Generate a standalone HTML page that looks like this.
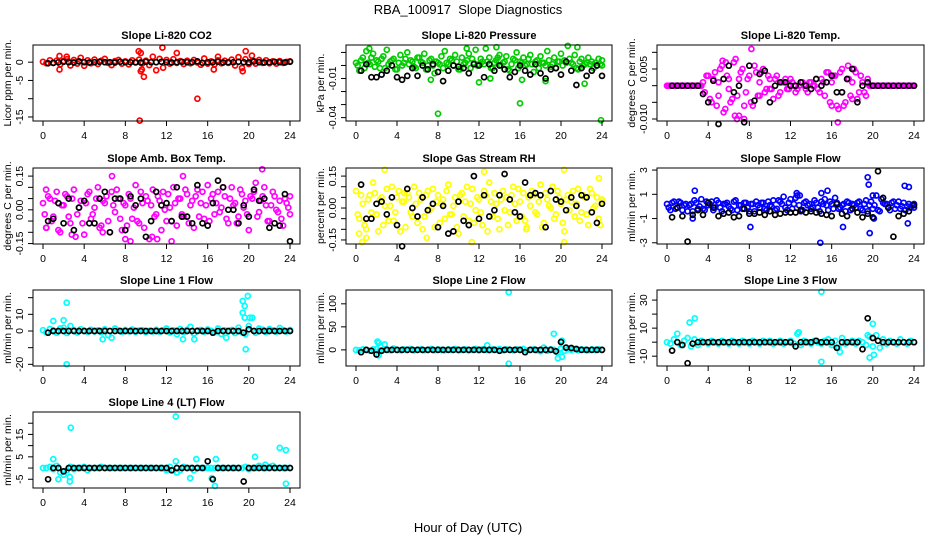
<!DOCTYPE html>
<html><head><meta charset="utf-8"><style>
html,body{margin:0;padding:0;background:#fff}
svg{display:block;font-family:"Liberation Sans",Arial,sans-serif}
</style></head><body>
<svg id="chart" width="936" height="540" viewBox="0 0 936 540">
<text x="468" y="14" text-anchor="middle" font-size="13" style="white-space:pre">RBA_100917  Slope Diagnostics</text>
<text x="468" y="532" text-anchor="middle" font-size="13">Hour of Day (UTC)</text>
</svg>
<script>
const xTicks=[0,4,8,12,16,20,24];
const xTickLabels=["0","4","8","12","16","20","24"];

const co2A=[0.1,-0.3,0.5,-0.2,0.4,-0.6,0.3,0.8,-0.9,0.6,-0.4,1.2,-1.0,0.5,-0.3,0.7,-0.5,0.4,0.9,-0.2,-0.8,0.3,0.6,-0.4,0.2,-0.6,0.5,-0.1,0.7,-0.3,0.4,-0.8,1.5,-2.2,0.9,-1.5,0.6,-0.4,0.8,-0.2,0.3,-0.5,0.4,-0.3,0.6,-0.1,-0.7,1.0,-0.4,0.2,-0.6,0.5,-0.3,0.4,-0.2,0.7,-0.9,1.4,-1.6,0.8,-0.5,0.3,-0.4,0.6,-0.2,0.5,-0.3,0.2,-0.4,0.3,-0.2,0.1,0.2];
const co2Out=[[9.3,3],[9.4,-16],[9.5,2.5],[9.6,-2],[9.8,-4],[11.6,4],[13,2.5],[15,-10],[16.6,-2],[19.7,3],[19.4,-2.5],[1.6,-2],[1.6,1.7],[2.3,1.5],[17,1.5],[20.3,1.8],[9.5,-2.5]];
const co2K=[-0.3,-0.2,0,0.1,0,-0.1,0.2,0,-0.1,0,0.1,0,0,-0.1,0.1,0,0,0,-0.1,0.1,0,0,0.1,0,-0.1,0,0.1,0,0,0.2,-0.2,0,0,0.1,-0.1,0,0,0.1,0,-0.1,0.2,0,-0.1,0,0.1,0,-0.1,0.1];

const presA=[0.002,-0.004,0.006,0.011,0.001,0.009,0.004,-0.002,0.007,0.012,0.003,0.005,-0.003,0.008,0.002,0.010,0.004,-0.001,0.006,0.003,0.009,0.000,0.005,-0.006,0.002,0.007,0.011,0.001,0.004,0.008,-0.003,0.006,0.002,0.009,0.005,0.012,0.001,0.003,0.013,0.006,-0.002,0.004,0.008,0.002,0.007,-0.004,0.005,0.010,0.003,0.006,0.001,0.008,-0.005,0.004,0.007,0.002,0.011,-0.001,0.006,0.003,0.009,0.004,0.015,0.002,0.008,-0.003,0.005,0.001,0.006,0.003,0.002,0.005,0.004];
const presB=[0.000,0.004,-0.002,0.002,0.006,-0.001,0.003,0.005,-0.002,0.001,0.004,-0.003,0.002,0.000,0.005,0.001,0.003,-0.002,0.006,0.002,-0.003,0.004,0.000,0.003,0.001,-0.002,0.002,0.005,0.000,0.003,-0.003,0.001,0.004,-0.002,0.002,0.000,0.005,0.001,0.003,-0.002,0.002,0.006,0.000,0.003,-0.003,0.001,0.004,-0.002,0.002,0.000,0.005,0.001,0.003,-0.002,0.002,0.000,0.004,0.001,-0.002,0.003,0.000,0.002,0.005,0.001,-0.002,0.003,0.000,0.002,0.001,-0.002,0.000,0.001,0.000];
const presOut=[[8,-0.037],[16,-0.029],[23.9,-0.042],[12,-0.013],[7.3,-0.011],[22.3,-0.014],[21.6,0.014],[13.7,0.014],[16.2,-0.011],[18.5,-0.012],[13.1,-0.010],[1.3,0.013],[10.8,0.013]];
const presK=[-0.004,0.001,-0.009,-0.009,-0.007,-0.004,0.000,-0.009,-0.011,-0.008,-0.002,-0.008,0.000,-0.003,0.001,-0.005,-0.012,-0.004,0.000,-0.001,-0.002,-0.006,0.001,0.000,-0.009,0.001,-0.004,0.000,-0.003,-0.009,-0.005,0.000,-0.004,-0.007,0.001,-0.006,-0.010,-0.003,-0.002,-0.007,0.003,-0.004,-0.015,-0.002,-0.008,-0.004,0.000,-0.008];

const tempA=[0,0,0,0,0,0,0,0,0,0,0,-0.002,0.003,-0.005,0.004,-0.003,0.006,-0.007,0.002,-0.004,0.008,-0.009,0.005,-0.002,0.003,-0.006,0.004,-0.003,0.005,-0.001,0.002,-0.004,0.003,-0.002,0.001,-0.001,0.002,0.000,-0.001,0.001,0.000,-0.002,0.001,0.000,-0.001,0.002,-0.003,0.004,-0.006,0.003,-0.007,0.005,-0.005,0.002,-0.004,0.004,-0.002,0.001,-0.003,0,0,0,0,0,0,0,0,0,0,0,0,0,0];
const tempB=[0,0,0,0,0,0,0,0,0,0,0.001,0.003,-0.004,0.002,-0.006,0.005,-0.008,0.003,-0.005,0.007,-0.003,0.004,-0.010,0.002,-0.005,0.006,-0.003,0.004,-0.002,0.003,-0.001,0.002,-0.003,0.001,0.002,-0.001,0.001,-0.002,0.000,0.001,-0.001,0.001,0.000,0.002,-0.002,0.001,0.004,-0.005,0.003,-0.006,0.004,-0.006,0.002,-0.003,0.005,-0.004,0.003,-0.002,0.002,0,0,0,0,0,0,0,0,0,0,0,0,0,0];
const tempOut=[[8.2,0.011],[6.8,-0.010],[6.6,-0.009],[5.4,0.0075],[5.7,0.007],[7.5,-0.006],[17.6,0.006],[16.6,-0.011],[5,0.001],[6,-0.001],[7,0.002],[9,0.001],[10,-0.001],[16,0.001],[17,-0.002],[18,0.001]];
const tempK=[0,0,0,0,0,0,-0.0025,-0.005,0.0015,-0.0115,0.002,0.006,-0.002,0.000,-0.011,0.006,-0.0045,0.0035,0.0045,-0.005,0.000,0.001,0.001,0.000,0.000,0.001,0.000,-0.001,0.002,0.000,0.001,0.003,-0.002,-0.002,0.002,0.005,-0.005,0.000,0.001,0.000,0,0,0,0,0,0,0,0];

const ambA=[0.03,-0.08,0.05,-0.03,0.08,-0.10,0.02,0.06,-0.06,0.09,-0.02,0.04,-0.11,0.07,-0.04,0.01,0.10,-0.07,0.03,-0.05,0.08,-0.01,0.05,-0.09,0.02,0.07,-0.04,0.11,-0.06,0.03,0.06,-0.13,0.09,-0.02,0.04,0.08,-0.05,0.01,0.10,-0.07,0.05,-0.03,0.07,0.02,-0.08,0.09,0.03,-0.04,0.11,0.05,-0.02,0.08,0.01,0.06,-0.06,0.10,0.03,-0.03,0.07,0.04,-0.09,0.05,0.12,-0.01,0.06,0.02,-0.05,0.08,0.00,0.04,-0.07,0.03,0.06];
const ambB=[-0.02,0.06,-0.05,0.04,-0.09,0.02,0.07,-0.03,0.05,-0.12,0.01,-0.06,0.03,0.08,-0.02,0.05,-0.08,0.04,0.06,-0.10,0.02,0.09,-0.04,0.03,-0.07,0.05,0.01,-0.05,0.08,-0.08,0.04,0.02,-0.03,0.06,-0.09,0.00,0.07,-0.05,0.03,0.05,-0.02,0.09,-0.06,0.04,0.06,-0.03,0.08,0.02,-0.05,0.07,0.03,-0.01,0.10,-0.04,0.05,0.02,-0.06,0.09,0.01,-0.02,0.06,0.08,-0.03,0.04,0.10,-0.05,0.02,0.06,-0.01,-0.04,0.05,0.01,-0.02];
const ambOut=[[0.3,0.09],[0.3,-0.08],[6.7,0.15],[13.6,0.15],[21.3,0.18],[8,-0.13],[8.5,-0.14],[12.5,-0.14],[10.6,-0.12],[11.1,-0.13],[2.8,-0.11],[5.8,-0.1]];
const ambK=[-0.05,-0.04,0.03,-0.06,0.05,-0.09,0.01,0.04,-0.06,-0.06,0.05,0.08,-0.10,0.05,0.05,-0.09,0.06,0.02,0.05,-0.12,-0.05,0.08,0.02,0.03,-0.05,0.10,-0.03,-0.03,-0.06,0.11,-0.06,-0.07,0.03,0.13,0.10,0.00,0.00,-0.06,0.02,-0.03,0.09,0.04,0.05,-0.08,-0.06,-0.07,0.07,-0.14];

const rhA=[0.08,-0.05,0.02,-0.10,0.06,0.12,-0.03,0.04,-0.08,0.09,0.01,-0.06,0.05,-0.11,0.03,0.07,-0.02,0.10,-0.07,0.04,-0.04,0.08,0.00,-0.09,0.06,0.02,-0.05,0.11,-0.03,0.05,-0.12,0.07,0.03,-0.06,0.09,-0.01,0.04,-0.08,0.06,0.12,-0.04,0.02,-0.10,0.08,0.05,-0.02,0.10,-0.06,0.03,0.07,-0.09,0.01,0.06,-0.03,0.11,-0.07,0.04,0.00,-0.05,0.08,0.02,-0.11,0.06,0.03,-0.04,0.09,-0.02,0.05,-0.08,0.07,0.01,-0.05,0.04];
const rhB=[-0.03,0.06,-0.08,0.04,-0.02,0.07,-0.11,0.05,0.01,-0.06,0.10,-0.02,0.08,0.03,-0.09,0.05,-0.04,0.02,0.07,-0.10,0.06,-0.01,0.09,0.03,-0.07,0.04,0.08,-0.03,0.01,-0.09,0.06,-0.04,0.10,0.02,-0.07,0.05,-0.02,0.08,-0.11,0.03,0.07,-0.05,0.04,-0.01,-0.08,0.06,0.02,0.09,-0.04,-0.06,0.05,0.08,-0.02,0.03,-0.09,0.07,0.01,0.10,-0.03,0.05,-0.07,0.04,-0.01,0.08,0.02,-0.06,0.06,-0.03,0.09,0.00,0.05,-0.08,0.03];
const rhOut=[[2.8,0.18],[20.3,0.18],[0.6,-0.16],[0.3,-0.12],[20.3,-0.16],[11.3,-0.16],[23.7,0.14],[12.5,0.17],[6.9,-0.14],[1,-0.14],[16.6,-0.1],[4.7,0.07]];
const rhK=[0.11,-0.05,-0.05,0.02,0.03,-0.03,0.05,-0.08,-0.18,0.09,0.00,-0.04,0.05,-0.01,0.02,-0.09,0.01,-0.12,-0.11,0.03,-0.06,-0.08,0.15,-0.05,0.06,-0.04,-0.01,0.06,0.16,0.04,-0.02,-0.04,0.12,0.06,0.07,0.06,-0.09,0.08,0.04,0.03,-0.01,0.05,0.01,0.06,0.05,-0.02,-0.07,0.02];

const sfA=[0.2,-0.3,0.4,-0.1,0.3,0.1,-0.4,0.2,0.5,-0.2,0.6,-0.3,0.1,0.4,-0.1,0.3,-0.4,0.2,0.0,-0.3,0.5,0.1,-0.2,0.3,-0.4,0.2,0.4,-0.1,0.3,-0.3,0.1,0.5,-0.2,0.4,0.8,-0.3,0.6,0.2,0.9,-0.4,0.3,0.1,-0.2,0.5,-0.1,0.4,0.6,-0.3,0.2,0.7,-0.2,0.1,-0.4,0.3,0.2,-0.1,0.4,-0.3,0.5,0.1,-0.2,0.9,-0.4,0.3,0.2,-0.3,0.4,0.1,-0.2,0.3,0.0,-0.1,0.2];
const sfB=[-0.1,0.3,-0.2,0.4,-0.3,0.2,0.1,-0.4,0.3,0.0,-0.2,0.4,0.2,-0.3,0.5,-0.1,0.2,0.3,-0.2,0.4,-0.3,0.1,0.3,-0.1,0.2,-0.4,0.1,0.3,-0.2,0.4,0.0,-0.3,0.5,0.2,-0.1,0.3,-0.2,0.7,0.1,-0.3,0.4,0.2,-0.1,0.3,-0.4,0.2,0.1,0.4,-0.2,0.3,-0.1,0.2,0.4,-0.3,0.1,0.3,-0.2,0.2,-0.4,0.4,0.1,-0.3,0.6,0.2,-0.1,0.3,-0.2,0.4,0.0,-0.3,0.2,0.1,-0.1];
const sfOut=[[2.7,1.3],[2.5,-1],[8.1,-1.7],[14.9,-3],[15.6,1.3],[15,1.1],[17.1,-1.7],[19.5,2.4],[19.6,1.8],[19.7,-2.2],[20,0.9],[20.1,-1],[23.1,1.7],[23.5,1.6],[23.4,-1.4],[12.6,1.1],[12.9,0.9]];
const sfK=[-0.9,-0.1,-0.8,-2.9,-0.7,-0.3,-0.7,0.3,-0.1,-0.8,-0.6,-0.5,-0.9,-0.8,-0.2,-0.6,-0.6,-0.5,-0.7,-0.4,-0.7,-0.6,-0.5,-0.5,-0.5,-0.3,-0.5,-0.4,-0.5,-0.6,-0.7,-0.8,0.2,-0.6,-0.8,-0.2,-0.5,-0.9,-0.6,-0.9,2.9,0.7,-0.1,-2.5,-0.8,-0.6,-0.4,0.1];

const l1A=[0.5,-0.8,1.2,0.3,-1.0,1.5,2.0,-1.2,3.0,0.6,-0.9,1.1,0.2,-0.5,0.8,-0.3,0.4,-0.7,1.0,-2.5,-4.0,1.5,0.3,-0.4,0.6,-0.2,0.9,-0.6,0.3,0.5,-0.8,0.2,-0.3,0.7,-0.4,0.5,1.5,-0.9,0.4,-2.0,1.2,-0.6,0.8,2.5,-1.5,0.3,0.6,-0.5,0.9,0.2,-0.8,1.5,-1.8,0.4,-0.3,0.6,-1.2,2.0,-0.7,-2.0,3.0,8.0,-1.0,1.5,0.8,-0.6,1.2,0.3,-0.4,1.8,0.5,-0.3,0.6];
const l1Out=[[2.3,17],[2.3,-20],[1,6],[2,6.5],[19.4,18],[19.4,11],[19.6,15],[19.9,21],[19.7,-11],[19.6,8],[20.1,8],[5.8,-5],[13.6,-5],[14.7,-5],[17.8,-4]];
const l1K=[-1,0,0,0,0,0,0,0,0,0,0,0,0,0,0,0,0,0,0,0,0,0,0,0,0,0,0,0,0,0,0,0,-1,0,0,0,0,0,-1,1,0,0,0,0,0,0,0,0];

const l2A=[0,-1,1,0,-2,1,2,-1,0,1,-1,3,0,-1,1,0,2,-1,0,1,-1,0,2,-1,1,0,-1,1,0,2,-1,0,1,-1,0,2,-1,1,0,-1,1,0,2,-1,1,0,-1,1,0,2,-1,0,1,-1,-3,5,-2,1,0,-6,3,-2,1,0,2,-1,1,0,-1,1,0,1,0];
const l2Out=[[14.9,125],[14.9,-30],[2.1,18],[2.2,15],[2.8,12],[19.3,35],[20.1,20],[19.7,-18],[20.1,-15],[12.8,10],[2.2,-12]];
const l2K=[-5,0,-2,-10,-2,0,0,0,0,0,0,0,0,0,0,0,0,0,0,0,0,0,0,0,0,0,0,-2,0,0,0,0,-5,0,0,0,0,0,-3,17,5,4,2,0,0,0,0,0];

const l3A=[0,-1,2,0,-2,1,3,-3,2,-2,1,0,-1,1,0,-1,1,0,-1,1,0,-1,1,0,-1,1,0,-1,1,0,1,-1,0,1,-1,0,1,-1,6,-2,1,0,-1,1,0,-1,1,2,-2,1,-4,3,-1,0,1,-1,1,0,-2,4,-3,5,-4,2,-1,1,0,-1,2,0,-1,1,0];
const l3Out=[[1,6],[2.2,14],[2.7,17],[15,36],[15,-14],[12.8,7],[16.8,-7],[20,13],[20.1,-9],[19.7,-11],[19.5,5]];
const l3K=[-6,0,-2,-15,-1,0,0,0,0,0,0,0,0,0,0,0,0,0,0,0,0,0,0,0,-3,0,0,0,1,0,0,0,-4,0,0,0,0,-5,17,3,1,0,0,0,0,0,0,0];

const l4A=[0,0,0.5,-0.5,1,-2,-3,-1,0.5,-0.5,0,0,0.5,-1,0,0,0,0.5,0,0,0,0,0,0,0,0,0,0,0,0,0,0,0,0,0,0,-1,0.5,-1,-2,-1,0.5,0,0,-1,0,0,0,0,0,0,0,0,0,0,0,0,0,0,0.5,-0.5,0,0,1,0,0,0.5,1,0,0,0,0,0];
const l4Out=[[2.7,18],[12.9,23],[1,4],[12.9,3],[14.9,4],[16.8,4],[20.6,5],[23,9],[23.6,8],[23.6,-7],[16.7,-8],[2.6,-6],[2.6,-4],[1.5,-5],[14.3,-4.5],[16.4,-4.5],[21.6,1.5]];
const l4K=[-5,0,0,-1.5,0,0,0,0,0,0,0,0,0,0,0,0,0,0,0,0,0,0,0,0,-1,0,0,0,0,0,0,3,-5,0,0,0,0,0,-6,0,0,0,0,0,0,0,0,0];

const co2Ticks=[0,-5,-10,-15], co2Labels=["0","-5","","-15"];
const presTicks=[0.01,0,-0.01,-0.02,-0.03,-0.04], presLabels=["","","-0.01","","","-0.04"];
const tempTicks=[0.01,0.005,0,-0.005,-0.01], tempLabels=["","0.005","","","-0.010"];
const ambTicks=[0.15,0.1,0.05,0,-0.05,-0.1,-0.15], ambLabels=["0.15","","","0.00","","","-0.15"];
const rhTicks=[0.15,0.1,0.05,0,-0.05,-0.1,-0.15], rhLabels=["0.15","","","0.00","","","-0.15"];
const sfTicks=[3,1,-1,-3], sfLabels=["3","1","-1","-3"];
const l1Ticks=[20,10,0,-10,-20], l1Labels=["","10","0","","-20"];
const l2Ticks=[100,50,0], l2Labels=["100","50","0"];
const l3Ticks=[30,20,10,0,-10], l3Labels=["30","","10","","-10"];
const l4Ticks=[20,15,10,5,0,-5], l4Labels=["","15","","5","","-5"];

const panels=[
 {id:"co2",title:"Slope Li-820 CO2",ylab:"Licor ppm per min.",col:0,row:0,yr:[-16.1,4.7],color:"#ff0000",A:co2A,B:null,out:co2Out,K:co2K,ticks:co2Ticks,labels:co2Labels},
 {id:"pressure",title:"Slope Li-820 Pressure",ylab:"kPa per min.",col:1,row:0,yr:[-0.0426,0.0157],color:"#00cc00",A:presA,B:presB,out:presOut,K:presK,ticks:presTicks,labels:presLabels},
 {id:"temp",title:"Slope Li-820 Temp.",ylab:"degrees C per min.",col:2,row:0,yr:[-0.0106,0.0122],color:"#ff00ff",A:tempA,B:tempB,out:tempOut,K:tempK,ticks:tempTicks,labels:tempLabels},
 {id:"amb-box-temp",title:"Slope Amb. Box Temp.",ylab:"degrees C per min.",col:0,row:1,yr:[-0.152,0.186],color:"#ff00ff",A:ambA,B:ambB,out:ambOut,K:ambK,ticks:ambTicks,labels:ambLabels},
 {id:"gas-rh",title:"Slope Gas Stream RH",ylab:"percent per min.",col:1,row:1,yr:[-0.169,0.188],color:"#ffff00",A:rhA,B:rhB,out:rhOut,K:rhK,ticks:rhTicks,labels:rhLabels},
 {id:"sample-flow",title:"Slope Sample Flow",ylab:"ml/min per min.",col:2,row:1,yr:[-3.1,3.17],color:"#0000ff",A:sfA,B:sfB,out:sfOut,K:sfK,ticks:sfTicks,labels:sfLabels},
 {id:"line1",title:"Slope Line 1 Flow",ylab:"ml/min per min.",col:0,row:2,yr:[-21,24.6],color:"#00ffff",A:l1A,B:null,out:l1Out,K:l1K,ticks:l1Ticks,labels:l1Labels},
 {id:"line2",title:"Slope Line 2 Flow",ylab:"ml/min per min.",col:1,row:2,yr:[-35,130],color:"#00ffff",A:l2A,B:null,out:l2Out,K:l2K,ticks:l2Ticks,labels:l2Labels},
 {id:"line3",title:"Slope Line 3 Flow",ylab:"ml/min per min.",col:2,row:2,yr:[-17,37.2],color:"#00ffff",A:l3A,B:null,out:l3Out,K:l3K,ticks:l3Ticks,labels:l3Labels},
 {id:"line4",title:"Slope Line 4 (LT) Flow",ylab:"ml/min per min.",col:0,row:3,yr:[-8.9,25],color:"#00ffff",A:l4A,B:null,out:l4Out,K:l4K,ticks:l4Ticks,labels:l4Labels}
];

const NS="http://www.w3.org/2000/svg";
const svg=document.getElementById("chart");
const colLeft=[33,346,657], colRight=[300,612,924], rowTop=[45,168,290,412], boxH=76;
function mk(tag,attrs,parent){const e=document.createElementNS(NS,tag);for(const k in attrs)e.setAttribute(k,attrs[k]);parent.appendChild(e);return e;}

panels.forEach(p=>{
  const L=colLeft[p.col],R=colRight[p.col],T=rowTop[p.row],B=T+boxH;
  const x0=L+10,x1=R-10;
  const xs=v=>x0+(v/24)*(x1-x0);
  const ys=v=>B-(v-p.yr[0])/(p.yr[1]-p.yr[0])*boxH;
  const g=mk("g",{},svg);
  
  
  const t=mk("text",{x:(L+R)/2,y:T-6,"text-anchor":"middle","font-size":"11","font-weight":"bold"},g);
  t.textContent=p.title;
  
  
  const yl=mk("text",{x:0,y:0,"text-anchor":"middle","font-size":"10.5",transform:`translate(${L-22},${(T+B)/2}) rotate(-90)`},g);
  yl.textContent=p.ylab;
  
  
  const pts=mk("g",{fill:"none","stroke-width":"1.7"},g);
  
  
  function dot(x,y,c,name){const c1=mk("circle",{cx:xs(x).toFixed(1),cy:ys(y).toFixed(1),r:"2.5",stroke:c},pts);
    
    }
  const n=p.A.length;
  p.A.forEach((v,i)=>dot(i*24/(n-1),v,p.color,'slope-point'));
  if(p.B){const m=p.B.length;p.B.forEach((v,i)=>dot(Math.min(24,(i+0.5)*24/(m-1)),v,p.color,'slope-point'));}
  p.out.forEach(o=>dot(o[0],o[1],p.color,'outlier-point'));
  p.K.forEach((v,i)=>dot(0.5+i*0.5,v,"#000",'hourly-mean-point'));
  const box=mk("rect",{x:L,y:T,width:R-L,height:boxH,fill:"none",stroke:"#000","stroke-width":"1"},g);
  
  
  const xa=mk("g",{},g);
  
  
  mk("line",{x1:xs(0),x2:xs(24),y1:B,y2:B,stroke:"#000"},xa);
  xTicks.forEach((v,i)=>{
    mk("line",{x1:xs(v),x2:xs(v),y1:B,y2:B+5,stroke:"#000"},xa);
    const tl=mk("text",{x:xs(v),y:B+18,"text-anchor":"middle","font-size":"10.5"},xa);
    tl.textContent=xTickLabels[i];
    
    
  });
  const ya=mk("g",{},g);
  
  
  mk("line",{x1:L,x2:L,y1:ys(p.ticks[0]),y2:ys(p.ticks[p.ticks.length-1]),stroke:"#000"},ya);
  p.ticks.forEach((v,i)=>{
    const y=ys(v);
    mk("line",{x1:L-5,x2:L,y1:y,y2:y,stroke:"#000"},ya);
    if(p.labels[i]){
      const tl=mk("text",{x:0,y:0,"text-anchor":"middle","font-size":"10.5",transform:`translate(${L-10},${y}) rotate(-90)`},ya);
      tl.textContent=p.labels[i];
      
      
    }
  });
});
</script>
</body></html>
